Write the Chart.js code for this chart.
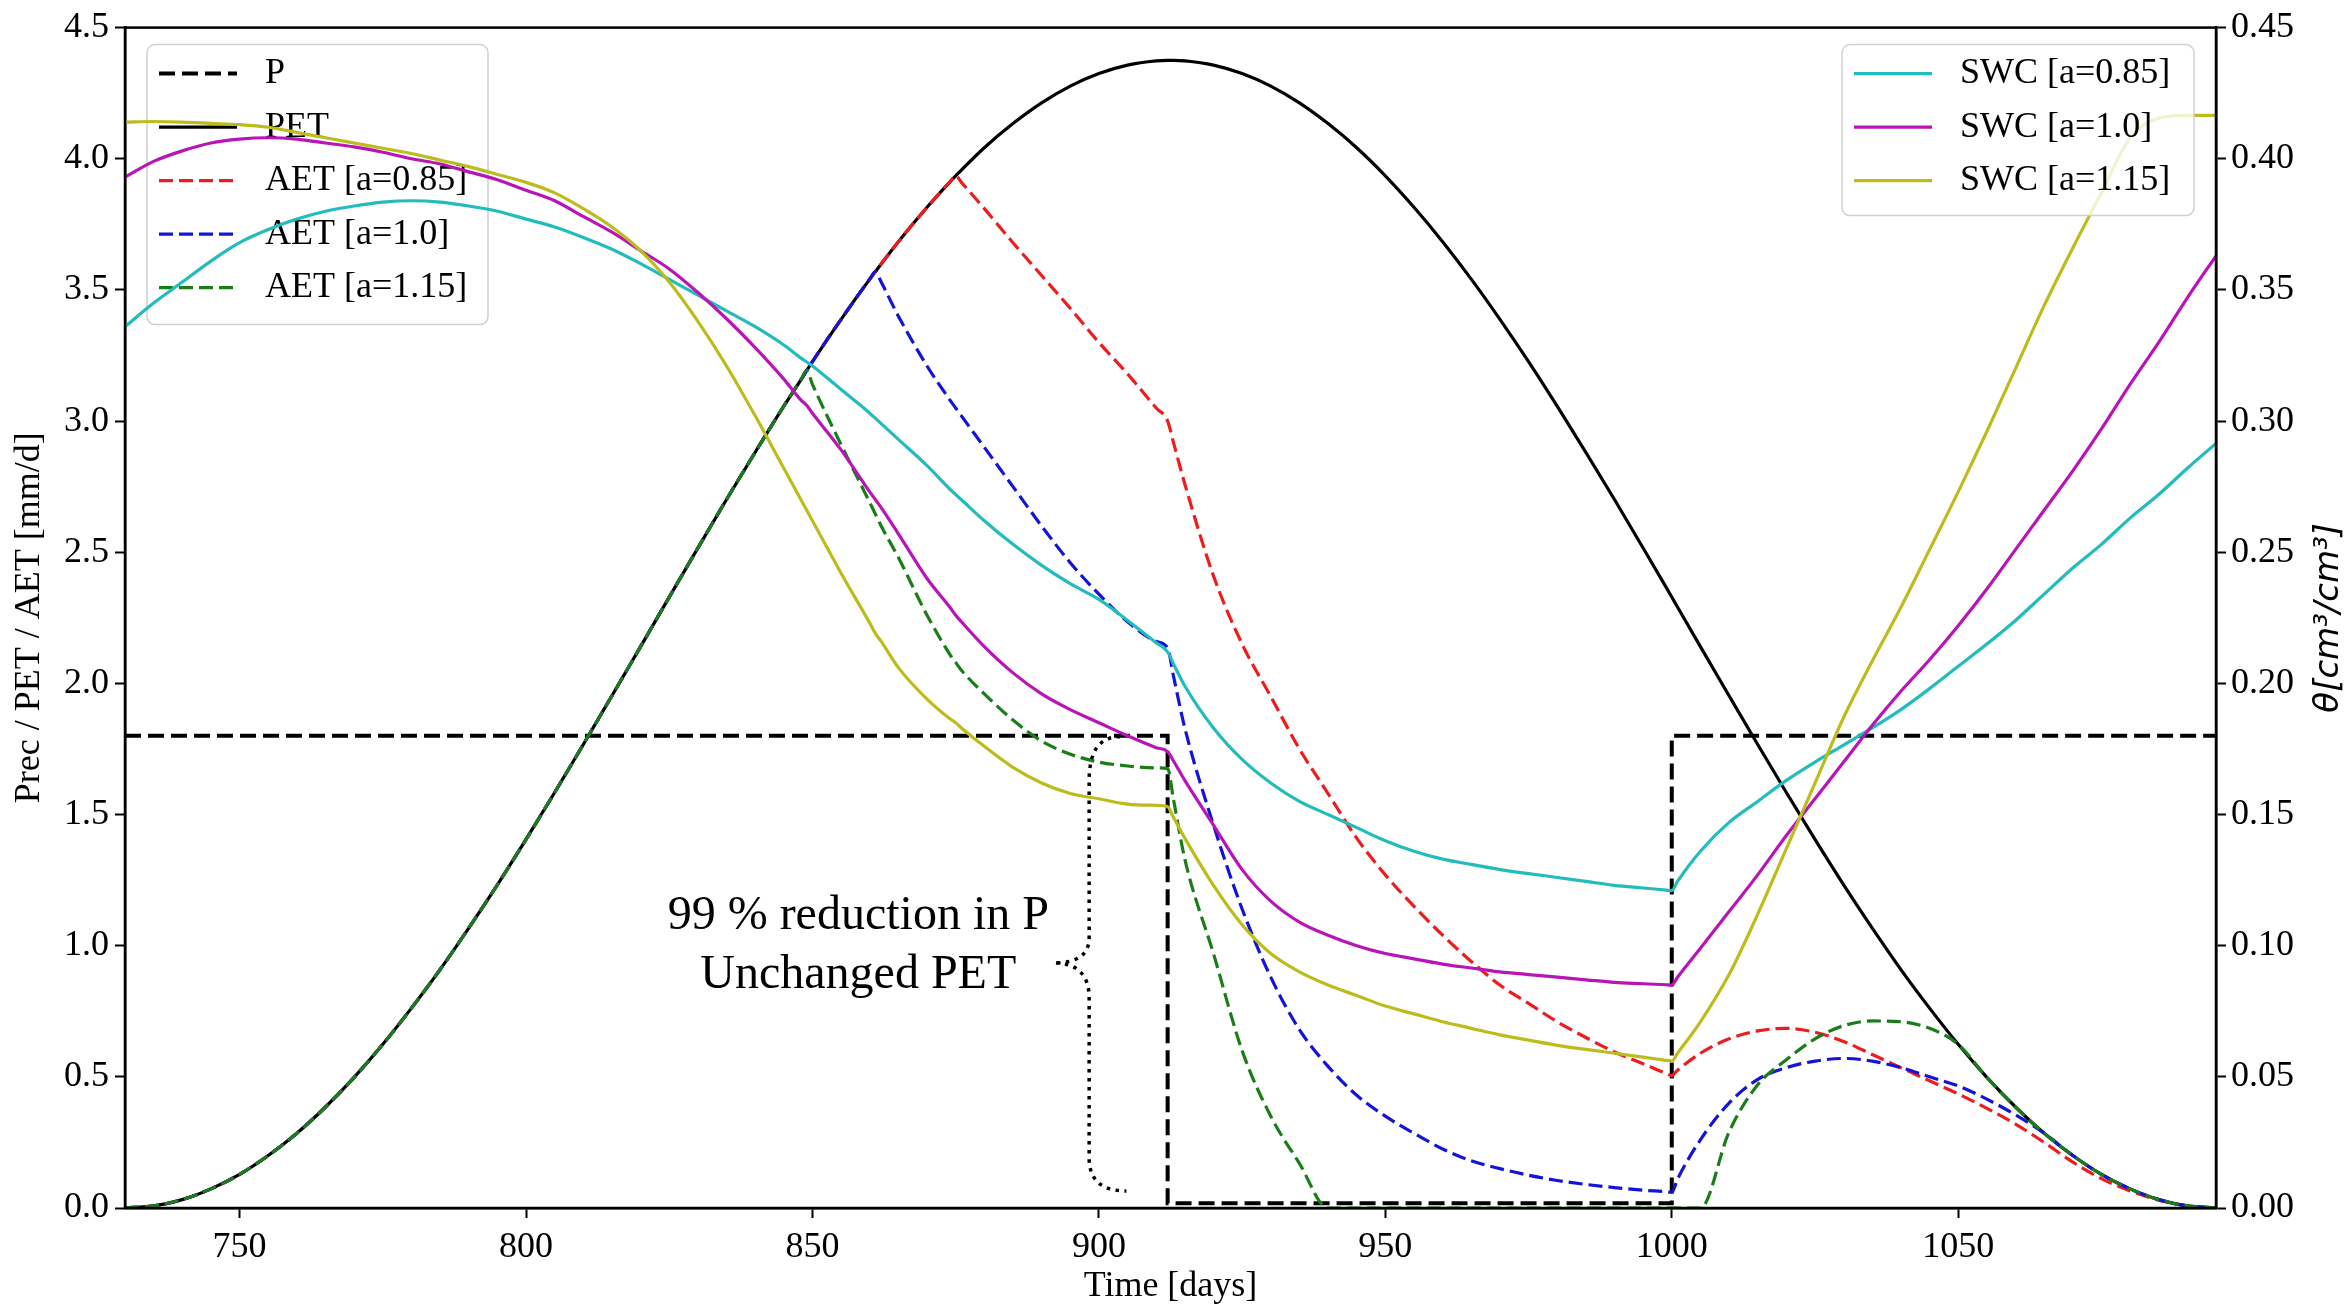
<!DOCTYPE html>
<html>
<head>
<meta charset="utf-8">
<script src="https://cdn.jsdelivr.net/npm/chart.js@4.4.1/dist/chart.umd.min.js"></script>
<style>
  html, body { margin: 0; padding: 0; background: #fff; }
  #wrap { width: 2351px; height: 1306px; }
</style>
</head>
<body>
<div id="wrap"><canvas id="waterChart"></canvas></div>
<script>
// time axis shared by the smooth series (denser around the kinks)
const days = [
  730, 735, 740, 745, 750, 755, 760, 765, 770, 775,
  780, 785, 790, 795, 800, 805, 810, 815, 820, 825,
  830, 835, 840, 845, 848, 849, 850, 855, 860, 861,
  862, 865, 870, 874, 875, 876, 880, 885, 890, 895,
  900, 905, 910, 912, 913, 915, 920, 925, 930, 935,
  940, 945, 950, 955, 960, 965, 970, 975, 980, 985,
  990, 995, 999, 1000, 1001, 1005, 1010, 1015, 1020, 1025,
  1030, 1035, 1040, 1045, 1050, 1055, 1060, 1065, 1070, 1075,
  1080, 1085, 1090, 1095
];

// precipitation is a step, so it gets its own points
const precipDays = [730, 912, 912, 1000, 1000, 1095];
const precip = [1.8, 1.8, 0.018, 0.018, 1.8, 1.8];

const pet = [
  0, 0.008, 0.032, 0.073, 0.128, 0.200, 0.285, 0.385, 0.498, 0.624,
  0.762, 0.909, 1.067, 1.232, 1.405, 1.584, 1.767, 1.953, 2.140, 2.329,
  2.516, 2.701, 2.881, 3.057, 3.158, 3.193, 3.227, 3.388, 3.541, 3.570,
  3.599, 3.684, 3.815, 3.912, 3.935, 3.957, 4.042, 4.134, 4.213, 4.277,
  4.325, 4.357, 4.373, 4.375, 4.375, 4.373, 4.357, 4.325, 4.277, 4.213,
  4.134, 4.042, 3.935, 3.815, 3.684, 3.541, 3.388, 3.227, 3.057, 2.881,
  2.701, 2.516, 2.367, 2.329, 2.291, 2.140, 1.953, 1.767, 1.584, 1.405,
  1.232, 1.067, 0.909, 0.762, 0.624, 0.498, 0.385, 0.285, 0.200, 0.128,
  0.073, 0.032, 0.008, 0
];

const aet085 = [
  0, 0.008, 0.032, 0.073, 0.128, 0.200, 0.285, 0.385, 0.498, 0.624,
  0.762, 0.909, 1.067, 1.232, 1.405, 1.584, 1.767, 1.953, 2.140, 2.329,
  2.516, 2.701, 2.881, 3.057, 3.158, 3.193, 3.227, 3.388, 3.541, 3.570,
  3.599, 3.684, 3.815, 3.912, 3.935, 3.91, 3.81, 3.68, 3.555, 3.43,
  3.30, 3.18, 3.05, 3.00, 2.92, 2.76, 2.41, 2.15, 1.95, 1.75,
  1.58, 1.41, 1.27, 1.15, 1.04, 0.94, 0.85, 0.78, 0.71, 0.65,
  0.595, 0.55, 0.513, 0.505, 0.525, 0.59, 0.645, 0.675, 0.685, 0.67,
  0.635, 0.585, 0.535, 0.485, 0.435, 0.38, 0.32, 0.25, 0.175, 0.112,
  0.065, 0.030, 0.008, 0
];

const aet100 = [
  0, 0.008, 0.032, 0.073, 0.128, 0.200, 0.285, 0.385, 0.498, 0.624,
  0.762, 0.909, 1.067, 1.232, 1.405, 1.584, 1.767, 1.953, 2.140, 2.329,
  2.516, 2.701, 2.881, 3.057, 3.158, 3.193, 3.227, 3.388, 3.541, 3.570,
  3.53, 3.40, 3.21, 3.08, 3.05, 3.02, 2.90, 2.75, 2.60, 2.46,
  2.34, 2.235, 2.16, 2.135, 2.03, 1.83, 1.46, 1.14, 0.88, 0.68,
  0.54, 0.43, 0.35, 0.285, 0.225, 0.18, 0.15, 0.125, 0.105, 0.09,
  0.078, 0.068, 0.062, 0.06, 0.11, 0.26, 0.40, 0.49, 0.535, 0.56,
  0.57, 0.56, 0.535, 0.50, 0.465, 0.415, 0.355, 0.285, 0.200, 0.128,
  0.073, 0.032, 0.008, 0
];

const aet115 = [
  0, 0.008, 0.032, 0.073, 0.128, 0.200, 0.285, 0.385, 0.498, 0.624,
  0.762, 0.909, 1.067, 1.232, 1.405, 1.584, 1.767, 1.953, 2.140, 2.329,
  2.516, 2.701, 2.881, 3.057, 3.158, 3.193, 3.14, 2.91, 2.69, 2.645,
  2.60, 2.48, 2.26, 2.11, 2.08, 2.05, 1.96, 1.86, 1.78, 1.73,
  1.70, 1.685, 1.678, 1.675, 1.56, 1.33, 0.97, 0.60, 0.35, 0.17,
  0, 0, 0, 0, 0, 0, 0, 0, 0, 0,
  0, 0, 0, 0, 0, 0, 0.29, 0.47, 0.565, 0.645,
  0.695, 0.713, 0.71, 0.685, 0.624, 0.498, 0.385, 0.285, 0.200, 0.128,
  0.073, 0.032, 0.008, 0
];

const swc085 = [
  0.336, 0.345, 0.353, 0.361, 0.368, 0.373, 0.377, 0.380, 0.382, 0.3835,
  0.384, 0.3835, 0.382, 0.380, 0.377, 0.374, 0.370, 0.3655, 0.360, 0.354,
  0.348, 0.342, 0.336, 0.329, 0.324, 0.3225, 0.321, 0.312, 0.303, 0.301,
  0.299, 0.293, 0.283, 0.274, 0.272, 0.270, 0.262, 0.253, 0.245, 0.238,
  0.232, 0.224, 0.2155, 0.212, 0.2075, 0.199, 0.183, 0.171, 0.162, 0.155,
  0.150, 0.145, 0.140, 0.136, 0.133, 0.131, 0.129, 0.1275, 0.126, 0.1245,
  0.123, 0.122, 0.1212, 0.121, 0.1245, 0.136, 0.147, 0.155, 0.163, 0.170,
  0.1765, 0.183, 0.190, 0.198, 0.2065, 0.215, 0.224, 0.234, 0.244, 0.253,
  0.263, 0.272, 0.282, 0.2915
];

const swc100 = [
  0.393, 0.399, 0.403, 0.406, 0.4075, 0.408, 0.4075, 0.406, 0.4045, 0.4025,
  0.400, 0.398, 0.395, 0.392, 0.388, 0.384, 0.378, 0.372, 0.365, 0.358,
  0.349, 0.339, 0.328, 0.316, 0.308, 0.306, 0.303, 0.289, 0.273, 0.270,
  0.267, 0.257, 0.240, 0.229, 0.226, 0.2235, 0.214, 0.204, 0.196, 0.190,
  0.185, 0.180, 0.1755, 0.174, 0.1705, 0.163, 0.146, 0.129, 0.117, 0.109,
  0.104, 0.100, 0.097, 0.095, 0.093, 0.0915, 0.090, 0.089, 0.088, 0.087,
  0.086, 0.0855, 0.0851, 0.085, 0.088, 0.099, 0.113, 0.127, 0.142, 0.156,
  0.170, 0.184, 0.197, 0.209, 0.222, 0.236, 0.251, 0.266, 0.281, 0.297,
  0.314, 0.330, 0.347, 0.363
];

const swc115 = [
  0.414, 0.4142, 0.414, 0.4135, 0.413, 0.412, 0.410, 0.408, 0.406, 0.404,
  0.402, 0.3995, 0.397, 0.394, 0.391, 0.387, 0.381, 0.374, 0.365, 0.353,
  0.338, 0.321, 0.302, 0.282, 0.270, 0.266, 0.262, 0.242, 0.223, 0.219,
  0.216, 0.206, 0.194, 0.1865, 0.185, 0.183, 0.176, 0.168, 0.162, 0.158,
  0.156, 0.154, 0.1535, 0.153, 0.149, 0.141, 0.123, 0.108, 0.097, 0.090,
  0.085, 0.081, 0.077, 0.074, 0.071, 0.0685, 0.066, 0.064, 0.062, 0.0605,
  0.059, 0.0575, 0.0563, 0.056, 0.059, 0.071, 0.089, 0.112, 0.137, 0.162,
  0.187, 0.2085, 0.229, 0.251, 0.273, 0.296, 0.320, 0.344, 0.366, 0.387,
  0.408, 0.4155, 0.4165, 0.4165
];

const dayTicks = [750, 800, 850, 900, 950, 1000, 1050];
const fluxTicks = [0, 0.5, 1.0, 1.5, 2.0, 2.5, 3.0, 3.5, 4.0, 4.5];
const swcTicks = [0, 0.05, 0.10, 0.15, 0.20, 0.25, 0.30, 0.35, 0.40, 0.45];

const noteLines = ['99 % reduction in P', 'Unchanged PET'];

const SERIF = '"Liberation Serif", "Times New Roman", serif';
Chart.defaults.font.family = SERIF;
Chart.defaults.font.size = 36;
Chart.defaults.color = '#000';

function pts(xs, ys) {
  return xs.map((d, i) => ({ x: d, y: ys[i] }));
}

function line(label, values, color, axis, order, dashed) {
  return {
    label: label,
    data: pts(days, values),
    yAxisID: axis,
    borderColor: color,
    borderWidth: 3.2,
    borderDash: dashed ? [14, 6] : [],
    cubicInterpolationMode: 'monotone',
    pointRadius: 0,
    fill: false,
    order: order
  };
}

const datasets = [
  {
    label: 'P',
    data: pts(precipDays, precip),
    yAxisID: 'y',
    borderColor: '#000',
    borderWidth: 4,
    borderDash: [16, 7],
    tension: 0,
    pointRadius: 0,
    fill: false,
    order: 8
  },
  line('PET', pet, '#000', 'y', 7, false),
  line('AET [a=0.85]', aet085, '#ee1c1c', 'y', 6, true),
  line('AET [a=1.0]', aet100, '#1414d8', 'y', 5, true),
  line('AET [a=1.15]', aet115, '#1a7d1a', 'y', 4, true),
  line('SWC [a=0.85]', swc085, '#22bcbc', 'y2', 3, false),
  line('SWC [a=1.0]', swc100, '#b814b8', 'y2', 2, false),
  line('SWC [a=1.15]', swc115, '#bcbc1c', 'y2', 1, false)
];

function drawLegend(ctx, box, items) {
  ctx.save();
  ctx.fillStyle = 'rgba(255,255,255,0.8)';
  ctx.strokeStyle = '#d0d0d0';
  ctx.lineWidth = 1.5;
  ctx.beginPath();
  ctx.roundRect(box.x, box.y, box.w, box.h, 8);
  ctx.fill();
  ctx.stroke();
  items.forEach((ds, i) => {
    const cy = box.y + 29 + i * 53.5;
    ctx.strokeStyle = ds.borderColor;
    ctx.lineWidth = ds.borderWidth;
    ctx.setLineDash(ds.borderDash || []);
    ctx.beginPath();
    ctx.moveTo(box.x + 12, cy);
    ctx.lineTo(box.x + 90, cy);
    ctx.stroke();
    ctx.setLineDash([]);
    ctx.fillStyle = '#000';
    ctx.font = '36px ' + SERIF;
    ctx.textAlign = 'left';
    ctx.textBaseline = 'middle';
    ctx.fillText(ds.label, box.x + 118, cy);
  });
  ctx.restore();
}

function drawNote(chart) {
  const ctx = chart.ctx;
  const X = v => chart.scales.x.getPixelForValue(v);
  const Y = v => chart.scales.y.getPixelForValue(v);
  ctx.save();
  ctx.fillStyle = '#000';
  ctx.font = '48px ' + SERIF;
  ctx.textAlign = 'center';
  ctx.textBaseline = 'alphabetic';
  ctx.fillText(noteLines[0], X(858), Y(1.065));
  ctx.fillText(noteLines[1], X(858), Y(0.839));

  // dotted curly brace
  const sx = X(898.3);
  ctx.strokeStyle = '#000';
  ctx.lineWidth = 3.5;
  ctx.setLineDash([3.5, 5.5]);
  ctx.beginPath();
  ctx.moveTo(X(903.7), Y(1.797));
  ctx.quadraticCurveTo(sx, Y(1.797), sx, Y(1.63));
  ctx.lineTo(sx, Y(1.03));
  ctx.quadraticCurveTo(sx, Y(0.934), X(892.1), Y(0.934));
  ctx.quadraticCurveTo(sx, Y(0.934), sx, Y(0.80));
  ctx.lineTo(sx, Y(0.19));
  ctx.quadraticCurveTo(sx, Y(0.065), X(904.8), Y(0.065));
  ctx.stroke();
  ctx.restore();
}

const overlay = {
  id: 'overlay',
  afterDatasetDraw(chart, args) {
    if (chart.data.datasets[args.index].label !== 'AET [a=1.15]') return;
    const a = chart.chartArea;
    drawNote(chart);
    drawLegend(chart.ctx, { x: a.left + 22, y: a.top + 17, w: 341, h: 280 },
      chart.data.datasets.slice(0, 5));
  },
  afterDraw(chart) {
    const ctx = chart.ctx;
    const a = chart.chartArea;
    drawLegend(ctx, { x: a.right - 22 - 352, y: a.top + 17, w: 352, h: 171 },
      chart.data.datasets.slice(5));

    ctx.save();
    ctx.strokeStyle = '#000';
    ctx.lineWidth = 2.5;
    ctx.strokeRect(a.left, a.top, a.right - a.left, a.bottom - a.top);

    ctx.fillStyle = '#000';
    ctx.font = '36px ' + SERIF;
    ctx.textAlign = 'center';
    ctx.textBaseline = 'alphabetic';
    ctx.fillText('Time [days]', (a.left + a.right) / 2, 1296);

    ctx.textBaseline = 'middle';
    ctx.save();
    ctx.translate(30, (a.top + a.bottom) / 2);
    ctx.rotate(-Math.PI / 2);
    ctx.fillText('Prec / PET / AET [mm/d]', 0, 0);
    ctx.restore();

    ctx.save();
    ctx.translate(2329, (a.top + a.bottom) / 2);
    ctx.rotate(-Math.PI / 2);
    ctx.font = 'italic 34px "DejaVu Sans", sans-serif';
    ctx.fillText('\u03B8[cm\u00B3/cm\u00B3]', 0, 0);
    ctx.restore();
    ctx.restore();
  }
};

function tickStyle(values) {
  return s => { s.ticks = values.map(v => ({ value: v })); };
}

const gridStyle = { drawOnChartArea: false, drawTicks: true, tickLength: 10, tickWidth: 2, tickColor: '#000' };
const borderStyle = { display: true, color: '#000', width: 2.5 };

new Chart(document.getElementById('waterChart'), {
  type: 'line',
  data: { datasets: datasets },
  options: {
    responsive: true,
    maintainAspectRatio: false,
    animation: false,
    devicePixelRatio: 1,
    layout: { padding: { top: 25, left: 0, right: 0, bottom: 0 } },
    plugins: { legend: { display: false }, tooltip: { enabled: false } },
    scales: {
      x: {
        type: 'linear',
        min: 730,
        max: 1095,
        afterBuildTicks: tickStyle(dayTicks),
        afterFit: s => { s.height = 98; },
        ticks: { autoSkip: false, maxRotation: 0, padding: 8, color: '#000', callback: v => String(v) },
        grid: gridStyle,
        border: borderStyle
      },
      y: {
        type: 'linear',
        position: 'left',
        min: 0,
        max: 4.5,
        afterBuildTicks: tickStyle(fluxTicks),
        afterFit: s => { s.width = 125; },
        ticks: { autoSkip: false, padding: 6, color: '#000', callback: v => v.toFixed(1) },
        grid: gridStyle,
        border: borderStyle
      },
      y2: {
        type: 'linear',
        position: 'right',
        min: 0,
        max: 0.45,
        afterBuildTicks: tickStyle(swcTicks),
        afterFit: s => { s.width = 135; },
        ticks: { autoSkip: false, padding: 5, color: '#000', callback: v => v.toFixed(2) },
        grid: gridStyle,
        border: borderStyle
      }
    }
  },
  plugins: [overlay]
});
</script>
</body>
</html>
